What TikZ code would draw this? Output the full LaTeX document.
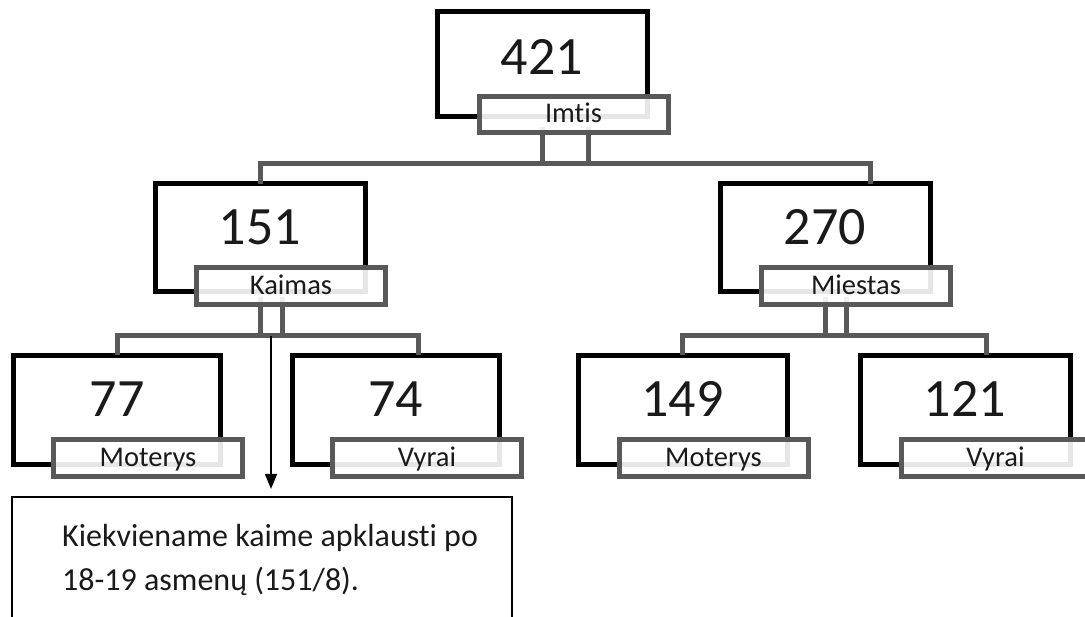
\documentclass[tikz,border=0pt]{standalone}
\usepackage{fontspec}
\setmainfont{Carlito}[Ligatures=NoCommon]
\usetikzlibrary{calc,arrows.meta}
\definecolor{cgray}{HTML}{595959}
\definecolor{ctext}{HTML}{1A1A1A}
\begin{document}
\begin{tikzpicture}[x=1pt,y=-1pt,
  box/.style={draw=black,line width=5pt,minimum width=210pt,minimum height=108pt,inner sep=0pt},
  lab/.style={draw=cgray,line width=5pt,fill=white,fill opacity=0.9,text opacity=1,draw opacity=1,
    minimum width=189pt,minimum height=36.5pt,inner sep=0pt,font=\fontsize{28.5}{30}\selectfont,
    text height=20pt,text depth=4pt,text=ctext},
  num/.style={anchor=base,font=\fontsize{54}{60}\selectfont,text=ctext,inner sep=0pt},
  conn/.style={draw=cgray,line width=5pt,line cap=rect},
  anntext/.style={anchor=base west,font=\fontsize{32}{43}\selectfont,inner sep=0pt,text=ctext},
]
\useasboundingbox (0,0) rectangle (1085,617);
\clip (0,0) rectangle (1085,617);

% boxes
\node[box,minimum height=105pt] (b421) at (542,64.5) {};
\node[box] (b151) at (260,238) {};
\node[box] (b270) at (825,238) {};
\node[box,minimum width=206.5pt,minimum height=109pt] (b77) at (117,410) {};
\node[box,minimum width=207pt,minimum height=109pt] (b74) at (395.5,410) {};
\node[box,minimum width=209pt,minimum height=109pt] (b149) at (682.5,410) {};
\node[box,minimum height=109pt] (b121) at (965,410) {};

% numbers
\node[num] (n421) at (542,75) {421};
\node[num] (n151) at (260,245) {151};
\node[num] (n270) at (825,245) {270};
\node[num] (n77) at (117,417) {77};
\node[num] (n74) at (395.5,417) {74};
\node[num] (n149) at (682.5,417) {149};
\node[num] (n121) at (965,417) {121};

% connectors
\coordinate (h1) at (0,164);
\coordinate (h2) at (0,336);
\draw[conn] (b421.center |- 0,130) -- (b421.center |- h1) -| (b151.north);
\draw[conn] ($(b421.center |- 0,130)+(46,0)$) -- ($(b421.center |- h1)+(46,0)$) -| ($(b270.north)+(45,0)$);
\draw[conn] (b421.center |- h1) -- ($(b421.center |- h1)+(46,0)$);

\draw[conn] (b151.center |- 0,300) -- (b151.center |- h2) -| (b77.north);
\draw[conn] ($(b151.center |- 0,300)+(22,0)$) -- ($(b151.center |- h2)+(22,0)$) -| ($(b74.north)+(22.5,0)$);
\draw[conn] (b151.center |- h2) -- ($(b151.center |- h2)+(22,0)$);

\draw[conn] (b270.center |- 0,300) -- (b270.center |- h2) -| (b149.north);
\draw[conn] ($(b270.center |- 0,300)+(21,0)$) -- ($(b270.center |- h2)+(21,0)$) -| ($(b121.north)+(21,0)$);
\draw[conn] (b270.center |- h2) -- ($(b270.center |- h2)+(21,0)$);

% labels
\node[lab] (l421) at (573.5,114.5) {Imtis};
\node[lab] (l151) at (291,286.25) {Kaimas};
\node[lab] (l270) at (856,286.25) {Miestas};
\node[lab] (l77) at (148,458.25) {Moterys};
\node[lab] (l74) at (427,458.25) {Vyrai};
\node[lab] (l149) at (713.5,458.25) {Moterys};
\node[lab] (l121) at (995.5,458.25) {Vyrai};

% annotation
\node[draw=black,line width=1.5pt,minimum width=500pt,minimum height=200pt,inner sep=0pt,outer sep=0pt,anchor=north west] (ann) at (12,497) {};
\coordinate (a0) at (271,336);
\draw[line width=1.5pt,-{Triangle[width=12pt,length=15pt]}] (a0) -- ($(a0 |- ann.north)+(0,-8)$);
\node[anntext] (t1) at (62,547) {Kiekviename kaime apklausti po};
\node[anntext] (t2) at (62,590) {18-19 asmenų (151/8).};
\end{tikzpicture}
\end{document}
